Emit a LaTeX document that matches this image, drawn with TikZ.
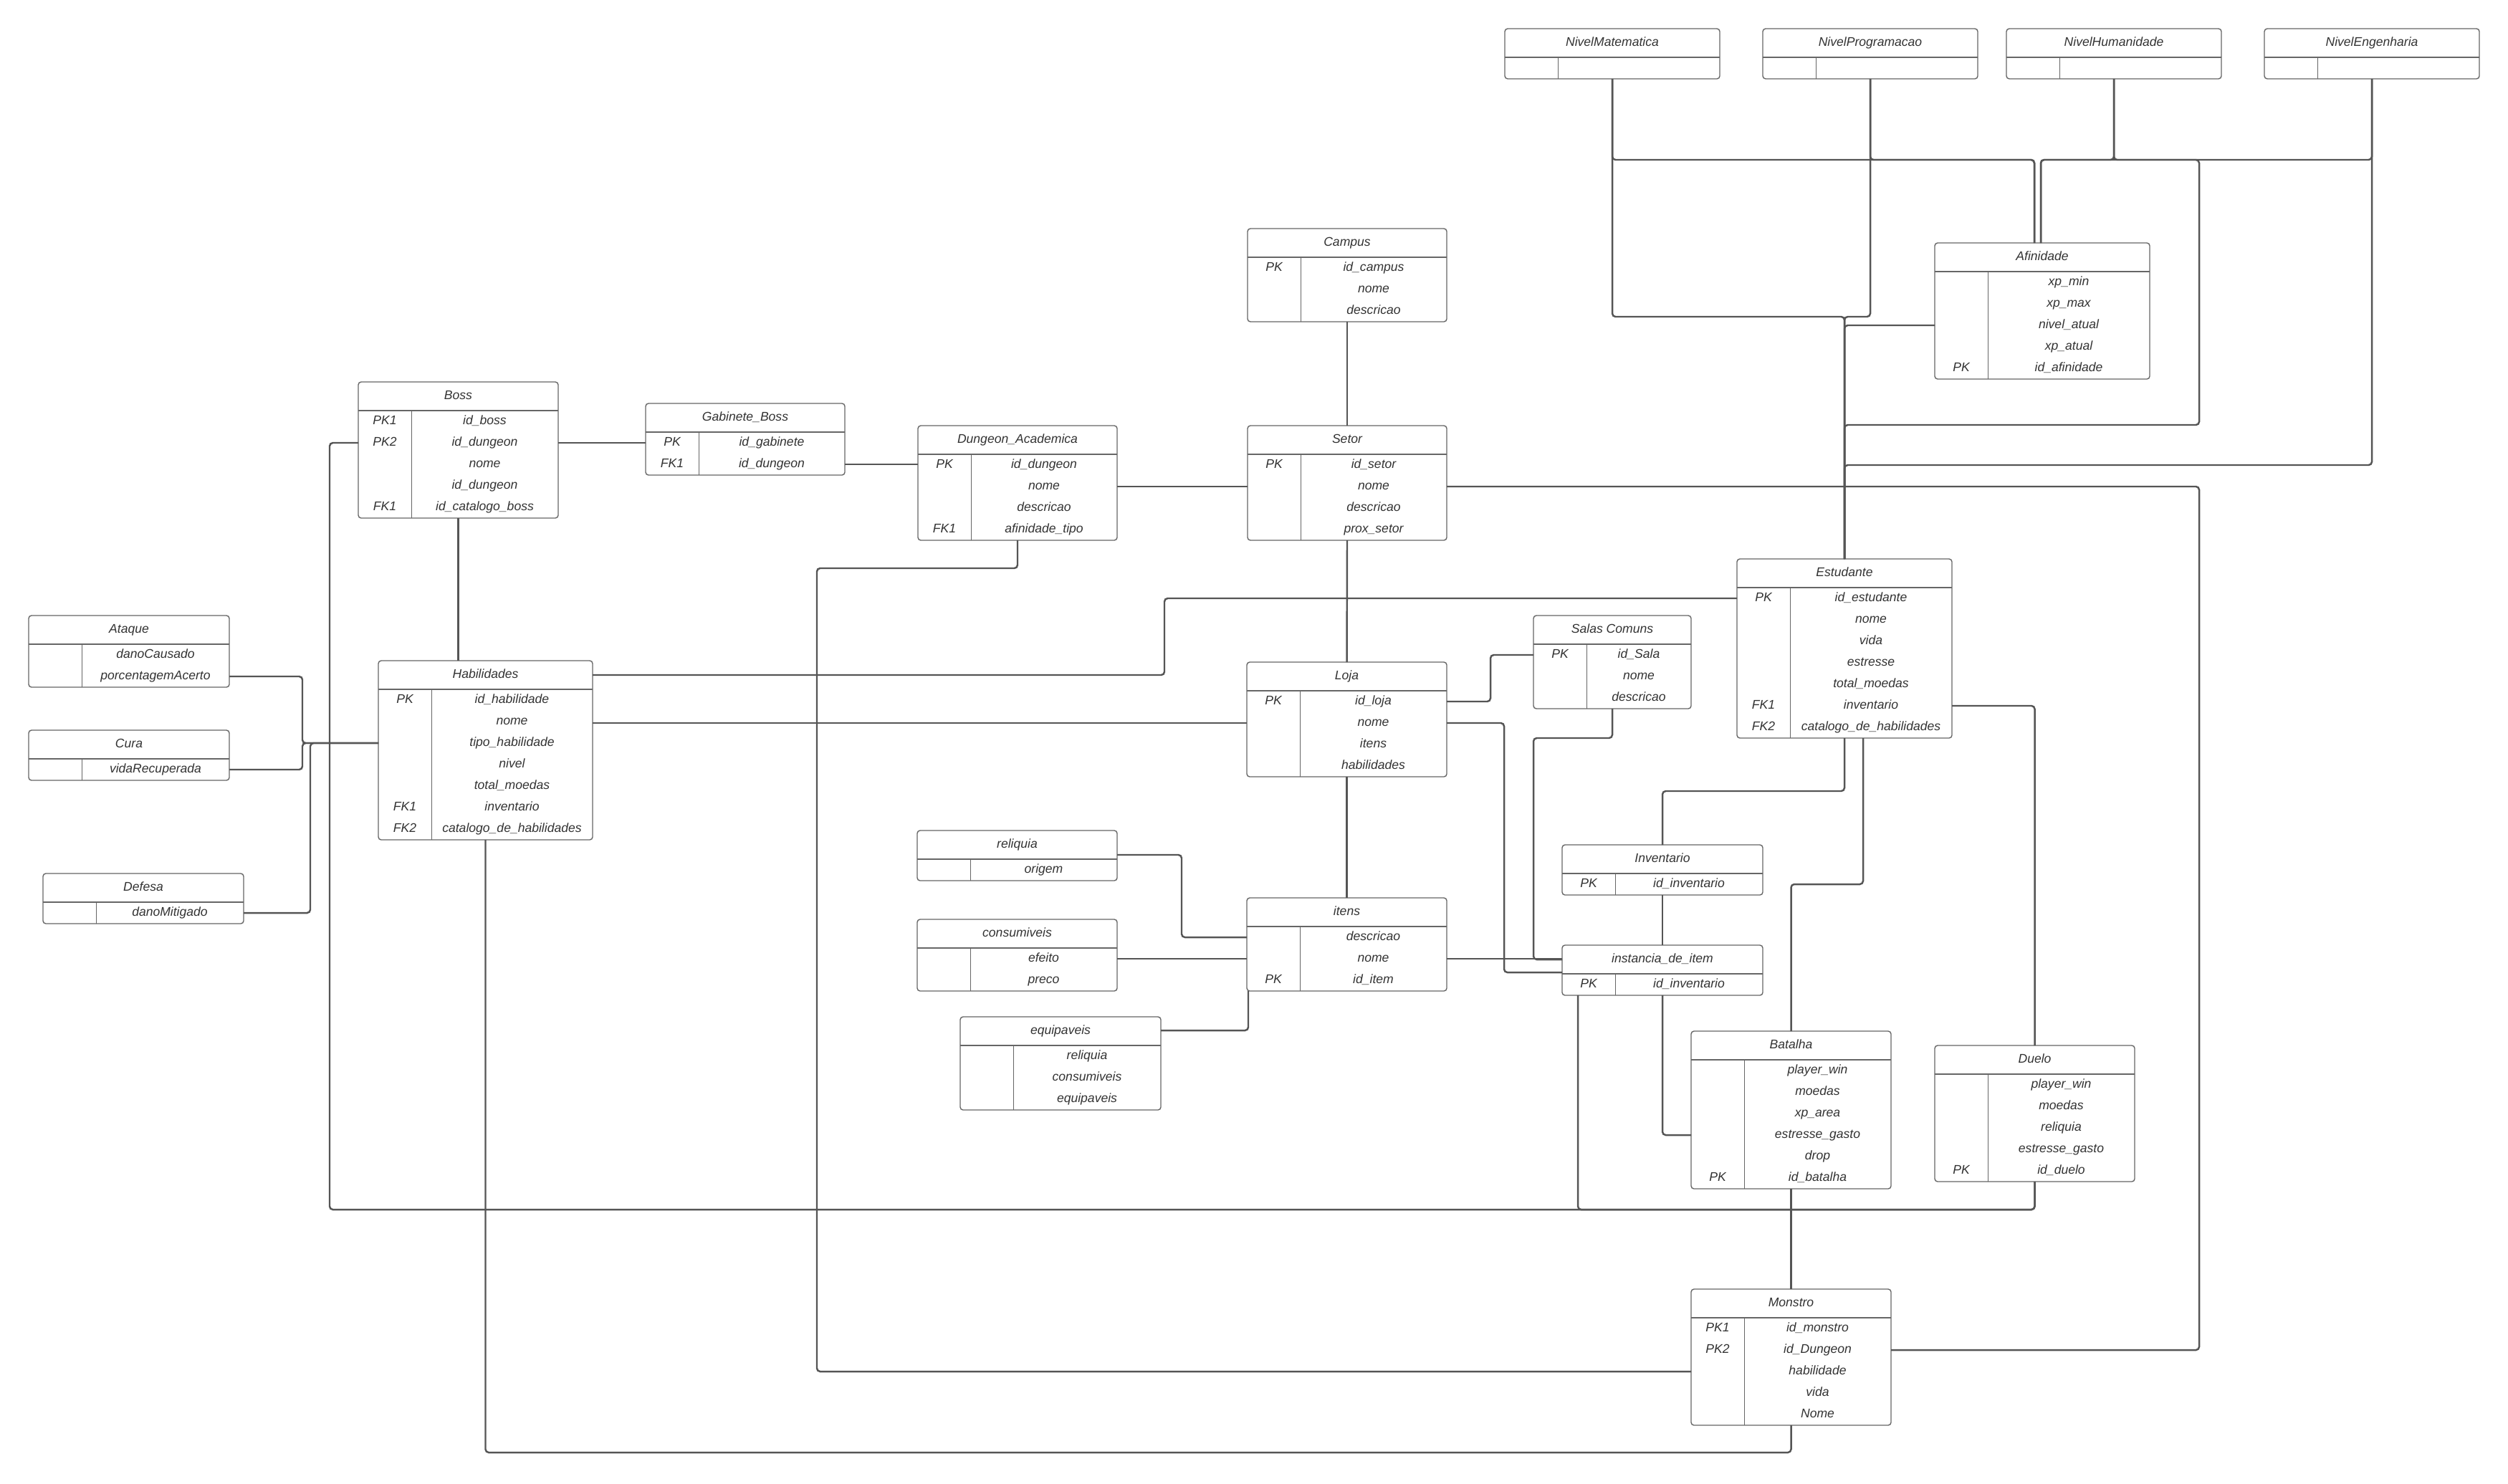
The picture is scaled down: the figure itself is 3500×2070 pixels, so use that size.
\documentclass[tikz,border=0pt]{standalone}
\usepackage{fontspec}
\setmainfont{Liberation Sans}
\usetikzlibrary{calc}
\definecolor{boxc}{HTML}{666666}
\definecolor{linec}{HTML}{555555}
\definecolor{txtc}{HTML}{333333}
\tikzset{
 tabbox/.style={draw=boxc, line width=0.8pt, rounded corners=0.08cm, fill=white, inner sep=0pt, outer sep=0pt, anchor=north west},
 hline/.style={draw=boxc, line width=0.8pt},
 vline/.style={draw=boxc, line width=0.5pt},
 ttl/.style={font=\fontsize{10}{12}\selectfont\itshape, text=txtc, inner sep=0pt, text height=7pt, text depth=2pt},
 fld/.style={font=\fontsize{10}{12}\selectfont\itshape, text=txtc, inner sep=0pt, text height=7pt, text depth=2pt},
 conn/.style={draw=linec, line width=1.4pt, rounded corners=0.09cm},
}
\newcommand\ertab[7]{%
 \node[tabbox, minimum width={#4*0.02cm}, minimum height={(40+30*#5)*0.02cm}] (#1) at (#2,#3) {};
 \draw[hline] ($(#1.north west)+(0,40)$) -- ($(#1.north east)+(0,40)$);
 \draw[vline] ($(#1.north west)+(74,40)$) -- ($(#1.south west)+(74,0)$);
 \node[ttl] (#1-t) at ($(#1.north west)+(#4/2,20)$) {#6};
 \coordinate (#1-LT) at ($(#1.north west)+(0,20)$);
 \coordinate (#1-RT) at ($(#1.north east)+(0,20)$);
 \foreach \k/\v [count=\i] in {#7}{%
   \node[fld] (#1-k\i) at ($(#1.north west)+(37,25+30*\i)$) {\k};
   \node[fld] (#1-v\i) at ($(#1.north west)+({(74+#4)/2},25+30*\i)$) {\v};
   \coordinate (#1-L\i) at ($(#1.north west)+(0,25+30*\i)$);
   \coordinate (#1-R\i) at ($(#1.north east)+(0,25+30*\i)$);
 }%
}
\begin{document}
\begin{tikzpicture}[x=0.02cm, y=-0.02cm]
\fill[white] (0,0) rectangle (3500,2070);
\useasboundingbox (0,0) rectangle (3500,2070);

\ertab{nmat}{2100}{40}{300}{1}{NivelMatematica}{~/~}
\ertab{nprog}{2460}{40}{300}{1}{NivelProgramacao}{~/~}
\ertab{nhum}{2800}{40}{300}{1}{NivelHumanidade}{~/~}
\ertab{neng}{3160}{40}{300}{1}{NivelEngenharia}{~/~}
\ertab{afin}{2700}{339}{300}{5}{Afinidade}{/xp\_min, /xp\_max, /nivel\_atual, /xp\_atual, PK/id\_afinidade}
\ertab{campus}{1741}{319}{278}{3}{Campus}{PK/id\_campus, /nome, /descricao}
\ertab{setor}{1741}{594}{278}{4}{Setor}{PK/id\_setor, /nome, /descricao, /prox\_setor}
\ertab{boss}{500}{533}{279}{5}{Boss}{PK1/id\_boss, PK2/id\_dungeon, /nome, /id\_dungeon, FK1/id\_catalogo\_boss}
\ertab{gab}{901}{563}{278}{2}{Gabinete\_Boss}{PK/id\_gabinete, FK1/id\_dungeon}
\ertab{dung}{1281}{594}{278}{4}{Dungeon\_Academica}{PK/id\_dungeon, /nome, /descricao, FK1/afinidade\_tipo}
\ertab{ataque}{40}{859}{280}{2}{Ataque}{/danoCausado, /porcentagemAcerto}
\ertab{cura}{40}{1019}{280}{1}{Cura}{/vidaRecuperada}
\ertab{defesa}{60}{1219}{280}{1}{Defesa}{/danoMitigado}
\ertab{habil}{528}{922}{299}{7}{Habilidades}{PK/id\_habilidade, /nome, /tipo\_habilidade, /nivel, /total\_moedas, FK1/inventario, FK2/catalogo\_de\_habilidades}
\ertab{loja}{1740}{924}{279}{4}{Loja}{PK/id\_loja, /nome, /itens, /habilidades}
\ertab{salas}{2140}{859}{220}{3}{Salas Comuns}{PK/id\_Sala, /nome, /descricao}
\ertab{estud}{2424}{780}{300}{7}{Estudante}{PK/id\_estudante, /nome, /vida, /estresse, /total\_moedas, FK1/inventario, FK2/catalogo\_de\_habilidades}
\ertab{inv}{2180}{1179}{280}{1}{Inventario}{PK/id\_inventario}
\ertab{inst}{2180}{1319}{280}{1}{instancia\_de\_item}{PK/id\_inventario}
\ertab{reliq}{1280}{1159}{279}{1}{reliquia}{/origem}
\ertab{consu}{1280}{1283}{279}{2}{consumiveis}{/efeito, /preco}
\ertab{equip}{1340}{1419}{280}{3}{equipaveis}{/reliquia, /consumiveis, /equipaveis}
\ertab{itens}{1740}{1253}{279}{3}{itens}{/descricao, /nome, PK/id\_item}
\ertab{batalha}{2360}{1439}{279}{6}{Batalha}{/player\_win, /moedas, /xp\_area, /estresse\_gasto, /drop, PK/id\_batalha}
\ertab{duelo}{2700}{1459}{279}{5}{Duelo}{/player\_win, /moedas, /reliquia, /estresse\_gasto, PK/id\_duelo}
\ertab{monstro}{2360}{1799}{279}{5}{Monstro}{PK1/id\_monstro, PK2/id\_Dungeon, /habilidade, /vida, /Nome}

% connectors
\draw[conn] (campus.south) -- (setor.north);
\draw[conn] (setor.south) -- (loja.north);
\draw[conn] (loja.south) -- (itens.north);
\draw[conn] (boss-R2) -- (boss-R2 -| gab.west);
\draw[conn] (gab-R2) -- (gab-R2 -| dung.west);
\draw[conn] (dung-R2) -- (dung-R2 -| setor.west);
\draw[conn] (setor-R2) -- (3069,679) -- (3069,1884) -- (monstro-R2);
\draw[conn] (dung.south) -- (1420,793) -- (1140,793) -- (1140,1914) -- (monstro-L3);
\draw[conn] (habil.south) -- (677.5,2027) -- (2499.5,2027) -- (monstro.south);
\draw[conn] (boss.south) -- (boss.south |- habil.north);
\draw[conn] (batalha.south) -- (monstro.north);
\draw[conn] (habil.east |- loja-L2) -- (loja-L2);
\draw[conn] (habil-RT) -- (1625,942) -- (1625,835) -- (estud-L1);
\draw[conn] (ataque-R2) -- (422,944) -- (422,1037) -- (habil-L3);
\draw[conn] (cura-R1) -- (422,1074) -- (422,1037) -- (habil-L3);
\draw[conn] (defesa-R1) -- (433,1274) -- (433,1037) -- (habil-L3);
\draw[conn] (loja-R1) -- (2080,979) -- (2080,914) -- (salas-L1);
\draw[conn] (loja-R2) -- (2099,1009) -- (2099,1357) -- ($(inst.north west)+(0,38)$);
\draw[conn] (salas.south) -- (2250,1030) -- (2140,1030) -- (2140,1339) -- (inst-LT);
\draw[conn] (itens-R2) -- (itens-R2 -| inst.west);
\draw[conn] ($(reliq.north east)+(0,34)$) -- (1649,1193) -- (1649,1308) -- (itens-L1);
\draw[conn] (consu-R1) -- (consu-R1 -| itens.west);
\draw[conn] ($(equip.north east)+(0,19)$) -- (1742,1438) -- ($(itens.south west)+(2,0)$);
\draw[conn] (inv.south) -- (inst.north);
\draw[conn] (inst.south) -- (2320,1584) -- (batalha-L4);
\draw[conn] ($(inst.south west)+(22,0)$) -- (2202,1688) -- (2839.5,1688) -- (duelo.south);
\draw[conn] (boss-L2) -- (460,618) -- (460,1688) -- (2839.5,1688) -- (duelo.south);
\draw[conn] (estud-R6) -- (estud-R6 -| duelo.north) -- (duelo.north);
\draw[conn] (estud.south) -- (2574,1104) -- (2320,1104) -- (inv.north);
\draw[conn] ($(estud.south)+(26,0)$) -- (2600,1234) -- (2499.5,1234) -- (batalha.north);
\draw[conn] (afin-L3) -- (2574,454) -- (estud.north);
\draw[conn] (nmat.south) -- (2250,442) -- (2574,442) -- (estud.north);
\draw[conn] (nprog.south) -- (2610,442) -- (2574,442) -- (estud.north);
\draw[conn] (nmat.south) -- (2250,223) -- (2839,223) -- ($(afin.north)+(-11,0)$);
\draw[conn] (nprog.south) -- (2610,223) -- (2839,223) -- ($(afin.north)+(-11,0)$);
\draw[conn] (nhum.south) -- (2950,223) -- (2848,223) -- ($(afin.north)+(-2,0)$);
\draw[conn] (neng.south) -- (3310,223) -- (2848,223) -- ($(afin.north)+(-2,0)$);
\draw[conn] (nhum.south) -- (2950,223) -- (3069,223) -- (3069,593) -- (2574,593) -- (estud.north);
\draw[conn] (neng.south) -- (3310,649) -- (2574,649) -- (estud.north);
\end{tikzpicture}
\end{document}
